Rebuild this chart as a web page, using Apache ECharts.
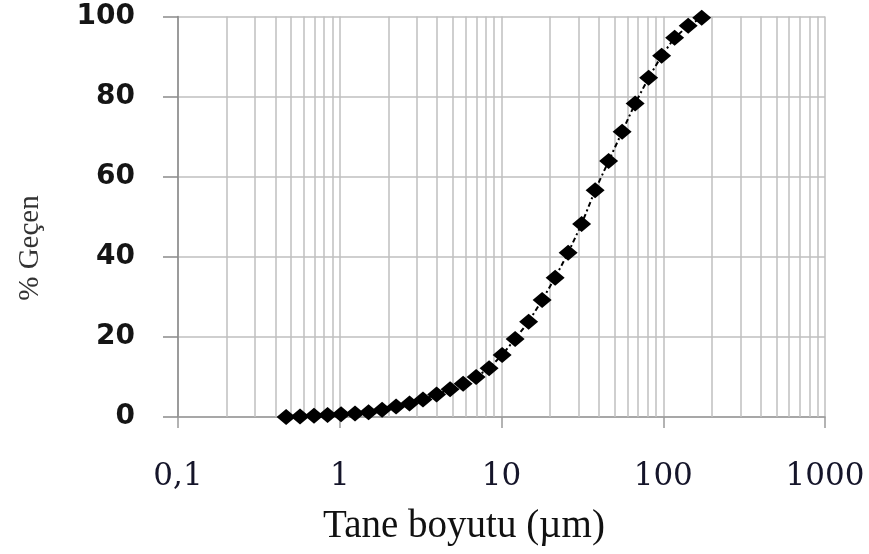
<!DOCTYPE html>
<html><head><meta charset="utf-8">
<script src="https://cdn.jsdelivr.net/npm/echarts@6/dist/echarts.min.js"></script>
<style>html,body{margin:0;padding:0;background:#fff}#c{width:869px;height:554px}</style>
</head><body><div id="c"></div>
<script>
// Particle size (µm) and cumulative % passing
const particleSize = [0.466,0.568,0.693,0.841,1.019,1.243,1.507,1.827,2.23,2.70,3.27,3.97,4.81,5.79,6.97,8.38,10.09,12.14,14.71,17.83,21.46,25.82,31.29,37.92,45.95,55.68,67.03,81.22,97.7,117.6,142.6,172.8];
const percentPassing = [0.0,0.15,0.3,0.5,0.7,0.9,1.2,1.8,2.6,3.4,4.4,5.6,6.9,8.3,10.0,12.2,15.5,19.5,23.8,29.2,34.8,41.0,48.2,56.6,63.9,71.2,78.3,84.7,90.2,94.7,97.7,99.7];
const xTickLabels = {'0.1':'0,1','1':'1','10':'10','100':'100','1000':'1000'};
const decades = [0.1,1,10,100];
const minorMultipliers = [2,3,4,5,6,7,8,9];
const yAxisTitle = '% Geçen';
const xAxisTitle = 'Tane boyutu (µm)';

const minorGrid = [];
decades.forEach(d => minorMultipliers.forEach(m => minorGrid.push({xAxis: +(d*m).toPrecision(3)})));

const gridColor = '#bfbfbf';
const chart = echarts.init(document.getElementById('c'), null, {renderer:'canvas'});
chart.setOption({
  animation: false,
  backgroundColor: '#fff',
  grid: {left: 178, right: 44, top: 16.5, bottom: 137, containLabel: false},
  xAxis: {
    type: 'log', logBase: 10, min: 0.1, max: 1000,
    axisLine: {show: true, onZero: true, lineStyle: {color: '#9a9a9a', width: 1.5}},
    axisTick: {show: true, length: 11, lineStyle: {color: '#9a9a9a', width: 1.5}},
    splitLine: {show: true, lineStyle: {color: gridColor, width: 1.5}},
    axisLabel: {
      margin: 44, color: '#15152a', fontFamily: 'DejaVu Serif', fontSize: 31,
      formatter: v => xTickLabels[String(+v.toPrecision(3))] || String(v).replace('.', ',')
    }
  },
  yAxis: {
    type: 'value', min: 0, max: 100, interval: 20,
    axisLine: {show: true, lineStyle: {color: '#8a8a8a', width: 1.5}},
    axisTick: {show: true, length: 15, lineStyle: {color: '#8a8a8a', width: 1.5}},
    splitLine: {show: true, lineStyle: {color: gridColor, width: 1.5}},
    axisLabel: {margin: 43, color: '#151515', fontFamily: 'DejaVu Sans', fontWeight: 'bold', fontSize: 28}
  },
  graphic: [
    {type: 'text', x: 30, y: 248, rotation: Math.PI/2,
     style: {text: yAxisTitle, font: '29px "Liberation Serif"', fill: '#333', align: 'center', verticalAlign: 'middle'}},
    {type: 'text', x: 464, y: 527,
     style: {text: xAxisTitle, font: '39px "Liberation Serif"', fill: '#111', align: 'center', verticalAlign: 'middle'}}
  ],
  series: [
    {
      type: 'line', data: [], silent: true, z: 1,
      markLine: {silent: true, symbol: ['none','none'], label: {show: false},
        lineStyle: {color: gridColor, width: 1.5, type: 'solid'}, data: minorGrid, animation: false}
    },
    {
      type: 'line', z: 5,
      data: particleSize.map((x, i) => [x, percentPassing[i]]),
      symbol: 'diamond', symbolSize: [19, 16],
      itemStyle: {color: '#000'},
      lineStyle: {color: '#000', width: 2, type: [5, 3, 2, 3]}
    }
  ]
});
</script></body></html>
